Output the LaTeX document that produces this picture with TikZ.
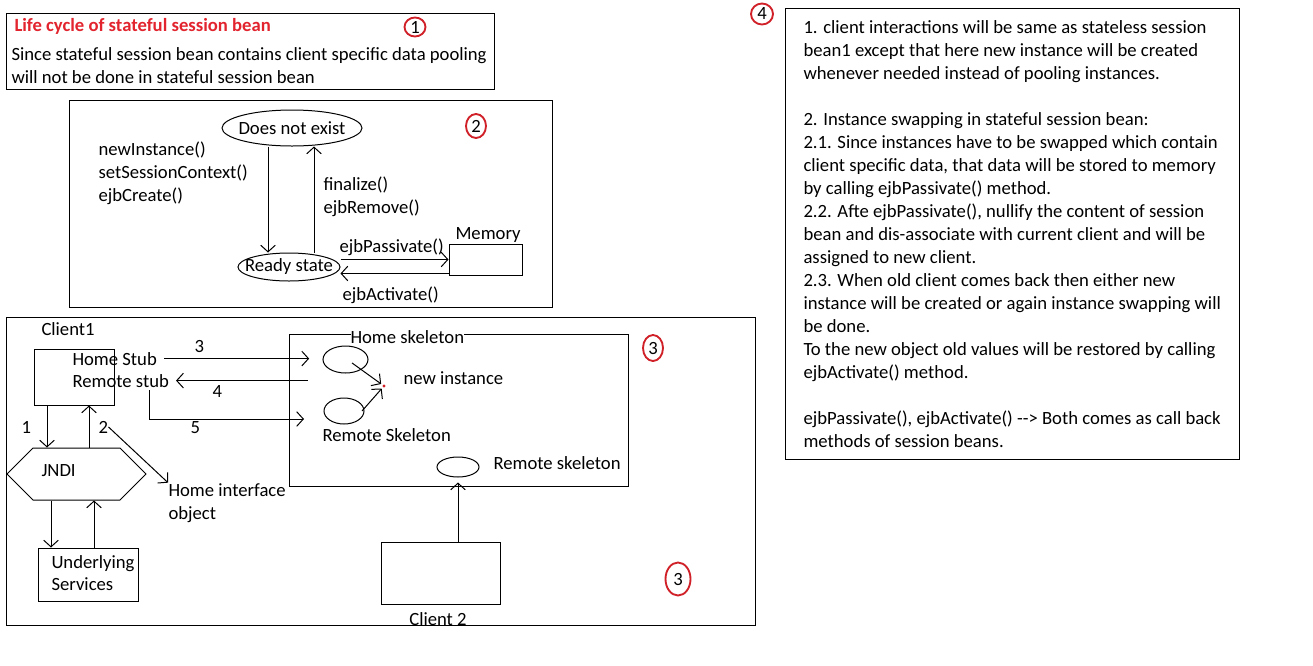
\documentclass[tikz,border=0pt]{standalone}
\usepackage{fontspec}
\setmainfont{Carlito}
\usetikzlibrary{arrows.meta,shapes.geometric,shapes.symbols,fit}
\definecolor{numred}{RGB}{208,32,40}
\definecolor{titlered}{RGB}{226,36,46}
\tikzset{
  txt/.style={anchor=base west, inner sep=0pt},
  arr/.style={-{Straight Barb[length=5pt,width=11pt]}},
  num/.style={draw=numred, line width=1.4pt, ellipse, inner sep=0pt},
  oval/.style={draw, ellipse, inner sep=0pt},
  box/.style={draw, inner sep=0pt}
}

\begin{document}
\begin{tikzpicture}[x=0.75pt, y=-0.75pt, line width=0.75pt, font=\fontsize{14}{17.25}\selectfont]
    \useasboundingbox (0,0) rectangle (1313,665);

    \node[box, fit={(6,13) (494,89)}] (intro) {};
    \node[txt, text=titlered, font=\fontsize{14}{17.25}\selectfont\bfseries] (title) at (14,31) {Life cycle of stateful session bean};
    \node[txt] (introa) at (11,60) {Since stateful session bean contains client specific data pooling};
    \node[txt] (introb) at (11,83) {will not be done in stateful session bean};
    \node[num, minimum width=15.75pt, minimum height=14.25pt] (num1) at (415,27) {1};

    \node[box, fit={(69,100) (552,307)}] (cycle) {};
    \node[num, minimum width=15pt, minimum height=18pt] (num2) at (476,126) {2};
    \node[oval, minimum width=105pt, minimum height=27pt, label=center:Does not exist] (dne) at (292,128) {};
    \node[oval, minimum width=76.5pt, minimum height=21pt, label=center:Ready state] (rdy) at (289,267) {};
    \node[box, fit={(449,244) (522,275)}] (mem) {};
    \node[txt] (meml) at (455,239) {Memory};
    \node[txt] (cr1) at (98,155) {newInstance()};
    \node[txt] (cr2) at (98,178) {setSessionContext()};
    \node[txt] (cr3) at (98,201) {ejbCreate()};
    \node[txt] (rm1) at (323,190) {finalize()};
    \node[txt] (rm2) at (323,213) {ejbRemove()};
    \node[txt] (pas) at (339,252) {ejbPassivate()};
    \node[txt] (act) at (342,300) {ejbActivate()};
    \draw[arr] (268,0 |- dne.south) -- (268,0 |- rdy.north);
    \draw[arr] (314,0 |- rdy.north) -- (314,0 |- dne.south);
    \draw[arr] (rdy.east |- mem.west) -- (mem.west);
    \draw[arr] ([yshift=1.5pt]mem.south west) -- ([yshift=1.5pt]mem.south west -| rdy.east);

    \node[box, fit={(6,317) (755,625)}] (ejb) {};
    \node[txt] (cl1) at (41,335) {Client1};
    \node[box, fit={(34,349) (114,405)}] (c1) {};
    \node[txt] (hstub) at (72,365) {Home Stub};
    \node[txt] (rstub) at (72,387) {Remote stub};
    \node[draw, signal, signal to=east and west, signal pointer angle=90, inner sep=0pt,
        minimum width=104.25pt, minimum height=39pt] (jndi) at (76.5,474) {};
    \node[txt] (jndil) at (41,476) {JNDI};
    \node[box, fit={(38,548) (138,601)}] (us) {};
    \node[txt] (us1) at (51,568) {Underlying};
    \node[txt] (us2) at (51,590) {Services};
    \node[txt] (n1) at (21,433) {1};
    \node[txt] (n2) at (98,433) {2};
    \node[txt] (hio1) at (168,496) {Home interface};
    \node[txt] (hio2) at (168,519) {object};
    \draw[arr] (47,0 |- c1.south) -- (47,0 |- jndi.north);
    \draw[arr] (89,0 |- jndi.north) -- (89,0 |- c1.south);
    \draw[arr] (51,0 |- jndi.south) -- (51,0 |- us.north);
    \draw[arr] (94,0 |- us.north) -- (94,0 |- jndi.south);
    \draw[arr] (n2.east) -- (hio1.north west);

    \node[box, fit={(289,334) (628,486)}] (skel) {};
    \node[txt, fill=white] (hskl) at (350,343) {Home skeleton};
    \node[oval, minimum width=33.75pt, minimum height=20.25pt] (hsk) at (345.5,359.5) {};
    \node[oval, minimum width=30pt, minimum height=19.5pt] (rsk) at (344,411) {};
    \node[circle, fill=numred, inner sep=0pt, minimum size=2.5pt] (dot) at (384,386) {};
    \node[txt] (nil) at (403,384) {new instance};
    \node[txt] (rskl) at (322,441) {Remote Skeleton};
    \node[oval, minimum width=31.5pt, minimum height=15pt] (rsk2) at (458,467) {};
    \node[txt] (rsk2l) at (493,469) {Remote skeleton};
    \node[num, minimum width=15pt, minimum height=19.5pt] (num3) at (653,348) {3};
    \node[box, fit={(381,542) (500,604)}] (c2) {};
    \node[anchor=base, inner sep=0pt] (cl2) at (438,625) {Client 2};
    \node[num, minimum width=18.75pt, minimum height=24.75pt] (num3b) at (678,579) {3};
    \coordinate (p5) at (304,419);
    \node[txt] (s3) at (194,352) {3};
    \node[txt] (s4) at (212,397) {4};
    \node[txt] (s5) at (190,433) {5};
    \draw[arr, shorten <=5pt, shorten >=10pt] (hstub.east) -- (hstub.east -| hsk.west);
    \draw[arr, shorten <=11pt, shorten >=5pt] (rstub.east -| hsk.west) -- (rstub.east);
    \draw[arr] ([xshift=-15pt,yshift=-2pt]rstub.south east) |- (p5);
    \draw[arr, shorten >=1pt] ([shift={(4.9pt,-2.6pt)}]hsk.center) -- (dot);
    \draw[arr, shorten >=1pt] ([shift={(13.5pt,0pt)}]rsk.center) -- (dot);
    \draw[arr, shorten >=3.75pt] (rsk2.south |- c2.north) -- (rsk2.south);

    \node[box, fit={(785,8) (1239,459)}] (notes) {};
    \node[num, minimum width=16.5pt, minimum height=15.75pt] (num4) at (762,14) {4};
    \foreach \ln [count=\i from 0] in {
        {1. client interactions will be same as stateless session},
        {bean1 except that here new instance will be created},
        {whenever needed instead of pooling instances.},
        {},
        {2. Instance swapping in stateful session bean:},
        {2.1. Since instances have to be swapped which contain},
        {client specific data, that data will be stored to memory},
        {by calling ejbPassivate() method.},
        {2.2. Afte ejbPassivate(), nullify the content of session},
        {bean and dis-associate with current client and will be},
        {assigned to new client.},
        {2.3. When old client comes back then either new},
        {instance will be created or again instance swapping will},
        {be done.},
        {To the new object old values will be restored by calling},
        {ejbActivate() method.},
        {},
        {ejbPassivate(), ejbActivate() -{}-> Both comes as call back},
        {methods of session beans.}}
        \node[txt] (ln\i) at (803,{33+23*\i}) {\ln};
\end{tikzpicture}
\end{document}
